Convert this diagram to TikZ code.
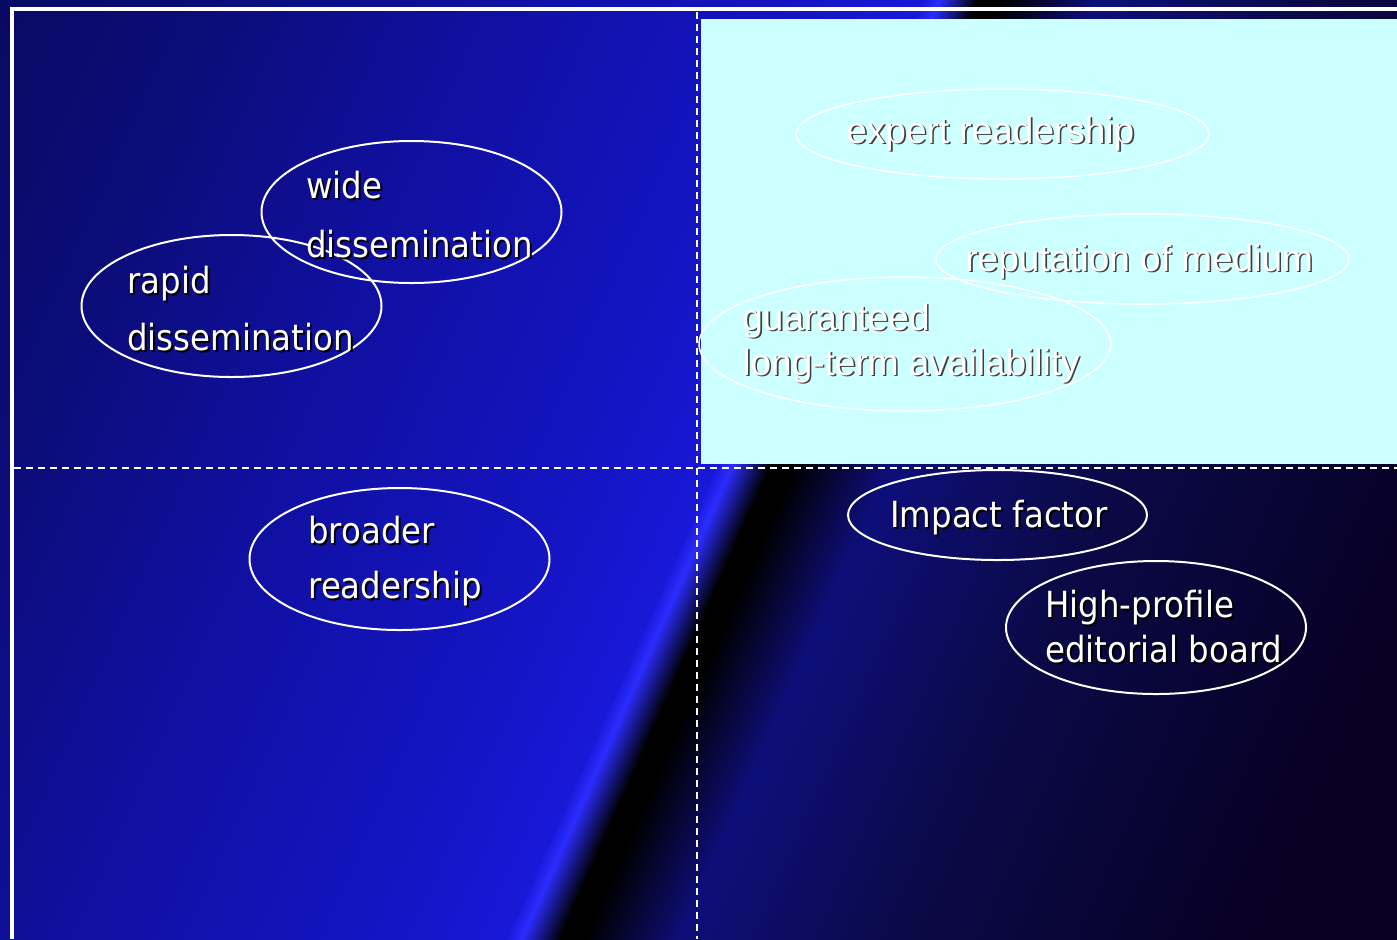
\documentclass[tikz,border=0pt]{standalone}
\usepackage{fontspec}
\usepackage{tikz}
\usetikzlibrary{shapes.geometric}
\newfontfamily\slidefont{DejaVu Sans}[FakeStretch=0.9]
\newfontfamily\cyanfont{Liberation Sans}
\definecolor{bgA}{HTML}{08085A}
\definecolor{bgB}{HTML}{0C0C7A}
\definecolor{bgC}{HTML}{1010A2}
\definecolor{bgD}{HTML}{1414C0}
\definecolor{bgE}{HTML}{1818D8}
\definecolor{bgF}{HTML}{2C2CFF}
\definecolor{bgG}{HTML}{0E0E7A}
\definecolor{bgH}{HTML}{0A0A48}
\definecolor{bgI}{HTML}{080026}
\definecolor{bgJ}{HTML}{06001A}
\definecolor{paleCyan}{HTML}{CCFFFF}
\pgfdeclarehorizontalshading{streak}{100bp}{color(0bp)=(bgA); color(25bp)=(bgA);
  color(32.5bp)=(bgB); color(38.75bp)=(bgC); color(45bp)=(bgD); color(48.5bp)=(bgE);
  color(48.875bp)=(bgF); color(49.75bp)=(black); color(50.3bp)=(black);
  color(52.5bp)=(bgG); color(57.5bp)=(bgH); color(65bp)=(bgI); color(75bp)=(bgJ);
  color(100bp)=(bgJ)}
\tikzstyle{bubble}=[ellipse, draw=white, line width=1pt, inner sep=0pt, outer sep=0pt]
\tikzstyle{bubblelight}=[bubble, line width=0.75pt]
\tikzstyle{darklbl}=[anchor=base west, inner sep=0pt, text=white, font=\slidefont\fontsize{18}{22}\selectfont]
\tikzstyle{lightlbl}=[anchor=base west, inner sep=0pt, text=white, font=\cyanfont\fontsize{18.5}{22}\selectfont]
\tikzstyle{borderline}=[white, line width=2pt]
\tikzstyle{quad}=[white, line width=1pt, dash pattern=on 3.5pt off 2.5pt]
\newcommand{\bubble}{\node[bubble]}
\newcommand{\lbubble}{\node[bubblelight]}
\newcommand{\darktext}[3]{%
  \node[darklbl, text=black, xshift=1pt, yshift=-1pt] (#1s) at (#2) {#3};
  \node[darklbl] (#1) at (#2) {#3};}
\newcommand{\lighttext}[3]{%
  \node[lightlbl, text=black!75, xshift=0.8pt, yshift=-0.8pt] (#1s) at (#2) {#3};
  \node[lightlbl] (#1) at (#2) {#3};}

\begin{document}
\begin{tikzpicture}[x=0.5pt, y=-0.5pt]
    \useasboundingbox (0,0) rectangle (1397,939);
    % background streak
    \begin{scope}
        \clip (0,0) rectangle (1397,939);
        \shade[shading=streak, shading angle=-24] (-220,-532) rectangle (1780,1468);
    \end{scope}
    \fill[paleCyan] (701,19) rectangle (1397,464);
    \draw[borderline] (10,9) -- (1397,9);
    \draw[borderline] (12,9) -- (12,939);
    \draw[quad] (697,12) -- (697,939);
    \draw[quad] (14,468) -- (1397,468);

    % ovals
    \bubble (wideOv) at (411.5,212) [minimum width=150pt, minimum height=71pt] {};
    \bubble (rapidOv) at (231.5,306) [minimum width=150pt, minimum height=71pt] {};
    \bubble (broadOv) at (399.5,559) [minimum width=150pt, minimum height=71pt] {};
    \lbubble (expertOv) at (1002.5,134) [minimum width=206.5pt, minimum height=45pt] {};
    \lbubble (reputOv) at (1142.5,259) [minimum width=206.5pt, minimum height=45pt] {};
    \lbubble (guarOv) at (905,344) [minimum width=206pt, minimum height=67pt] {};
    \bubble (impactOv) at (997.5,515) [minimum width=149.5pt, minimum height=45pt] {};
    \bubble (highOv) at (1156,627.5) [minimum width=150pt, minimum height=66.5pt] {};

    % labels
    \darktext{wideT}{306,198}{wide}
    \darktext{wideTb}{306,257}{dissemination}
    \darktext{rapidT}{127,293}{rapid}
    \darktext{rapidTb}{127,350}{dissemination}
    \darktext{broadT}{308,543}{broader}
    \darktext{broadTb}{308,598}{readership}
    \darktext{impactT}{890,527}{Impact factor}
    \darktext{highT}{1045,617}{High-profile}
    \darktext{highTb}{1045,662}{editorial board}
    \lighttext{expertT}{846,143}{expert readership}
    \lighttext{reputT}{965,271}{reputation of medium}
    \lighttext{guarT}{742,330}{guaranteed}
    \lighttext{guarTb}{742,375}{long-term availability}
\end{tikzpicture}
\end{document}
